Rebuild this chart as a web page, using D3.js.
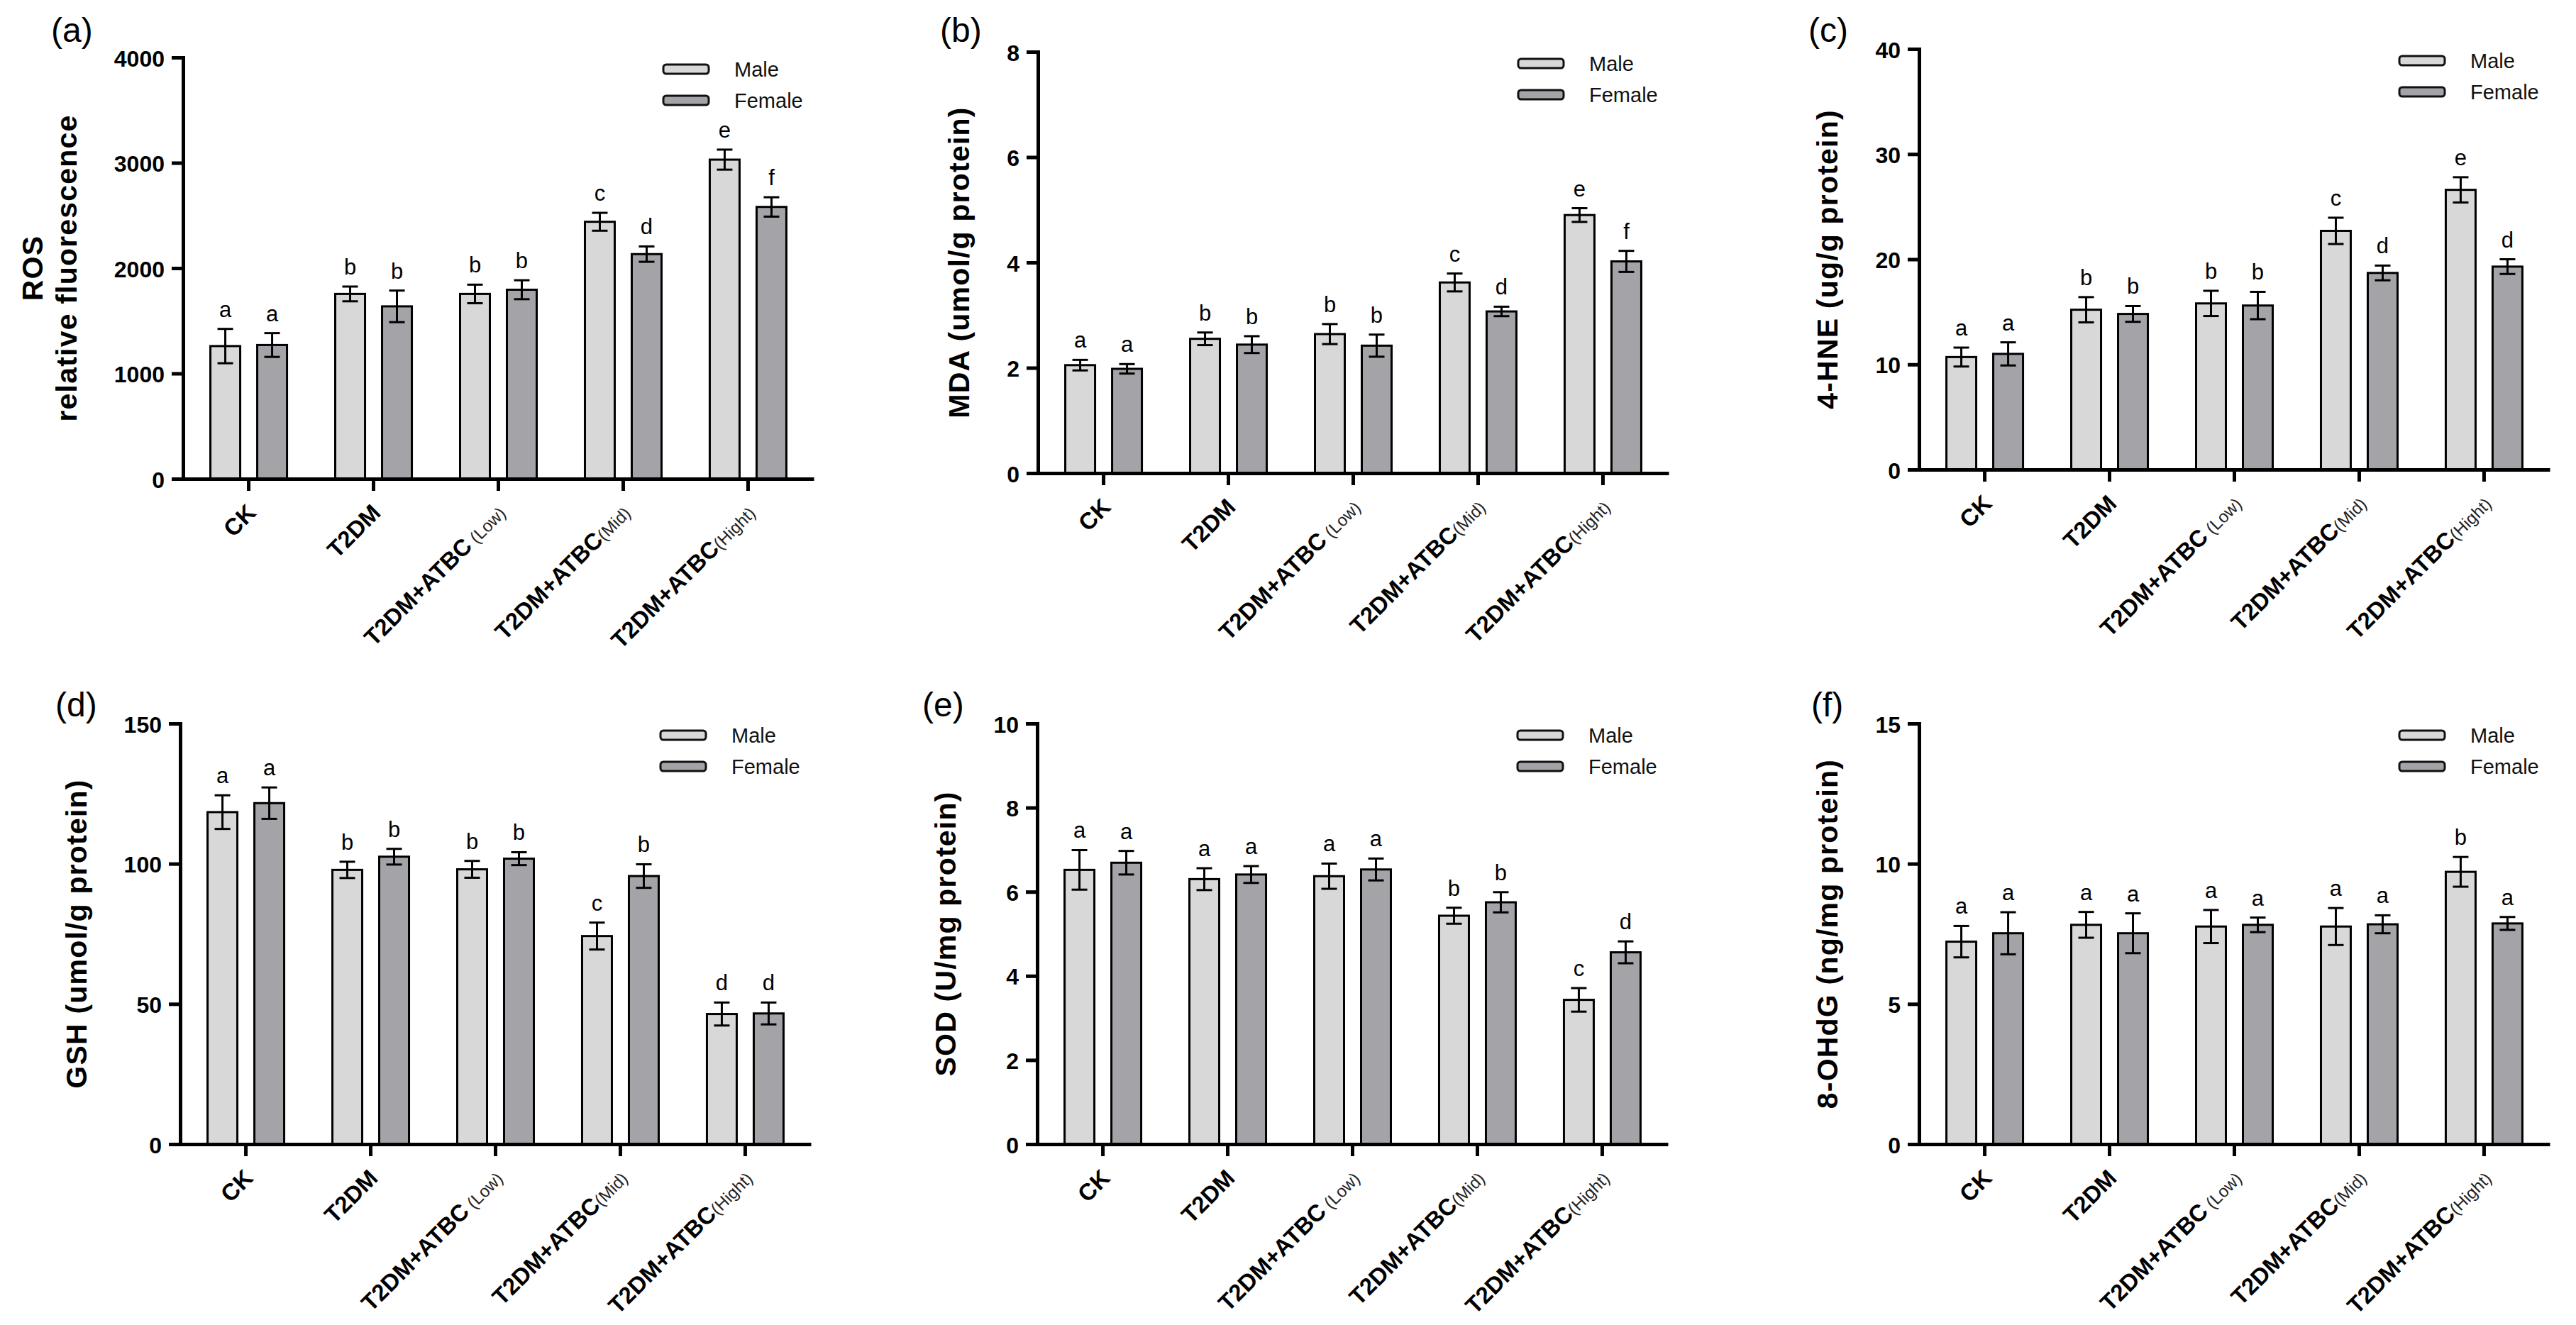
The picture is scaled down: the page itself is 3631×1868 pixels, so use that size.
<!DOCTYPE html>
<html>
<head>
<meta charset="utf-8">
<script src="https://cdn.jsdelivr.net/npm/d3@7"></script>
<style>
  html, body { margin: 0; padding: 0; background: #fff; }
  svg { display: block; font-family: "Liberation Sans", Arial, Helvetica, sans-serif; }
</style>
</head>
<body>
<script>
// ---------------- DATA ----------------
const categories = ["CK", "T2DM", "T2DM+ATBC (Low)", "T2DM+ATBC(Mid)", "T2DM+ATBC(Hight)"];
const catMain = ["CK", "T2DM", "T2DM+ATBC", "T2DM+ATBC", "T2DM+ATBC"];
const catSub = ["", "", "\u00a0(Low)", "(Mid)", "(Hight)"];
const series = ["Male", "Female"];

// (a) ROS
const rosMale = [1260, 1755, 1755, 2440, 3030];
const rosMaleErr = [163, 70, 88, 85, 95];
const rosFemale = [1270, 1637, 1795, 2133, 2581];
const rosFemaleErr = [113, 150, 90, 73, 92];
const rosMaleSig = ["a", "b", "b", "c", "e"];
const rosFemaleSig = ["a", "b", "b", "d", "f"];
const rosTicks = [0, 1000, 2000, 3000, 4000];

// (b) MDA
const mdaMale = [2.05, 2.55, 2.64, 3.62, 4.90];
const mdaMaleErr = [0.10, 0.12, 0.19, 0.17, 0.13];
const mdaFemale = [1.98, 2.44, 2.42, 3.07, 4.02];
const mdaFemaleErr = [0.09, 0.16, 0.21, 0.09, 0.20];
const mdaMaleSig = ["a", "b", "b", "c", "e"];
const mdaFemaleSig = ["a", "b", "b", "d", "f"];
const mdaTicks = [0, 2, 4, 6, 8];

// (c) 4-HNE
const hneMale = [10.7, 15.2, 15.8, 22.7, 26.6];
const hneMaleErr = [0.9, 1.2, 1.2, 1.25, 1.2];
const hneFemale = [11.0, 14.8, 15.6, 18.7, 19.3];
const hneFemaleErr = [1.1, 0.75, 1.3, 0.7, 0.7];
const hneMaleSig = ["a", "b", "b", "c", "e"];
const hneFemaleSig = ["a", "b", "b", "d", "d"];
const hneTicks = [0, 10, 20, 30, 40];

// (d) GSH
const gshMale = [118.4, 97.8, 98.0, 74.2, 46.4];
const gshMaleErr = [6.0, 2.9, 3.0, 4.8, 4.1];
const gshFemale = [121.6, 102.5, 101.8, 95.6, 46.6];
const gshFemaleErr = [5.6, 2.8, 2.3, 4.2, 3.9];
const gshMaleSig = ["a", "b", "b", "c", "d"];
const gshFemaleSig = ["a", "b", "b", "b", "d"];
const gshTicks = [0, 50, 100, 150];

// (e) SOD
const sodMale = [6.52, 6.30, 6.37, 5.43, 3.43];
const sodMaleErr = [0.47, 0.26, 0.30, 0.19, 0.28];
const sodFemale = [6.69, 6.41, 6.53, 5.75, 4.56];
const sodFemaleErr = [0.28, 0.20, 0.26, 0.24, 0.26];
const sodMaleSig = ["a", "a", "a", "b", "c"];
const sodFemaleSig = ["a", "a", "a", "b", "d"];
const sodTicks = [0, 2, 4, 6, 8, 10];

// (f) 8-OHdG
const ohdgMale = [7.22, 7.82, 7.76, 7.76, 9.71];
const ohdgMaleErr = [0.56, 0.46, 0.59, 0.66, 0.53];
const ohdgFemale = [7.52, 7.52, 7.82, 7.84, 7.87];
const ohdgFemaleErr = [0.75, 0.71, 0.26, 0.32, 0.23];
const ohdgMaleSig = ["a", "a", "a", "a", "b"];
const ohdgFemaleSig = ["a", "a", "a", "a", "a"];
const ohdgTicks = [0, 5, 10, 15];

// ---------------- LAYOUT ----------------
const W = 3631, H = 1868;
const AXIS_LEN = 889;
const FILL = { Male: "#d8d8d8", Female: "#a4a3a8" };

const panels = [
  { tag: "(a)", title: ["ROS", "relative fluorescence"], ticks: rosTicks,
    male: rosMale, maleErr: rosMaleErr, female: rosFemale, femaleErr: rosFemaleErr,
    maleSig: rosMaleSig, femaleSig: rosFemaleSig,
    axisX: 258, topY: 81, zeroY: 675, tagX: 72, tagY: 59 },
  { tag: "(b)", title: ["MDA (umol/g protein)"], ticks: mdaTicks,
    male: mdaMale, maleErr: mdaMaleErr, female: mdaFemale, femaleErr: mdaFemaleErr,
    maleSig: mdaMaleSig, femaleSig: mdaFemaleSig,
    axisX: 1463, topY: 73, zeroY: 667, tagX: 1325, tagY: 59 },
  { tag: "(c)", title: ["4-HNE (ug/g protein)"], ticks: hneTicks,
    male: hneMale, maleErr: hneMaleErr, female: hneFemale, femaleErr: hneFemaleErr,
    maleSig: hneMaleSig, femaleSig: hneFemaleSig,
    axisX: 2705, topY: 69, zeroY: 662, tagX: 2549, tagY: 59 },
  { tag: "(d)", title: ["GSH (umol/g protein)"], ticks: gshTicks,
    male: gshMale, maleErr: gshMaleErr, female: gshFemale, femaleErr: gshFemaleErr,
    maleSig: gshMaleSig, femaleSig: gshFemaleSig,
    axisX: 254, topY: 1020, zeroY: 1613, tagX: 78, tagY: 1010 },
  { tag: "(e)", title: ["SOD (U/mg protein)"], ticks: sodTicks,
    male: sodMale, maleErr: sodMaleErr, female: sodFemale, femaleErr: sodFemaleErr,
    maleSig: sodMaleSig, femaleSig: sodFemaleSig,
    axisX: 1462, topY: 1020, zeroY: 1613, tagX: 1300, tagY: 1010 },
  { tag: "(f)", title: ["8-OHdG (ng/mg protein)"], ticks: ohdgTicks,
    male: ohdgMale, maleErr: ohdgMaleErr, female: ohdgFemale, femaleErr: ohdgFemaleErr,
    maleSig: ohdgMaleSig, femaleSig: ohdgFemaleSig,
    axisX: 2705, topY: 1020, zeroY: 1613, tagX: 2553, tagY: 1010 }
];

const svg = d3.select("body").append("svg")
  .attr("width", W).attr("height", H).attr("viewBox", `0 0 ${W} ${H}`);
svg.append("rect").attr("width", W).attr("height", H).attr("fill", "#fff");

panels.forEach(p => {
  const g = svg.append("g");
  const y = d3.scaleLinear().domain([0, d3.max(p.ticks)]).range([p.zeroY, p.topY]);
  const x0 = d3.scaleBand().domain(categories)
    .range([p.axisX, p.axisX + AXIS_LEN]).paddingInner(0).paddingOuter(0.026);
  const bw = x0.bandwidth();
  const x1 = d3.scaleBand().domain(series)
    .range([bw / 2 - 54, bw / 2 + 54]).paddingInner(0.3636);

  const rows = [];
  categories.forEach((c, i) => {
    rows.push({ c, s: "Male", v: p.male[i], e: p.maleErr[i], sig: p.maleSig[i] });
    rows.push({ c, s: "Female", v: p.female[i], e: p.femaleErr[i], sig: p.femaleSig[i] });
  });
  const cx = d => x0(d.c) + x1(d.s) + x1.bandwidth() / 2;

  // bars
  g.selectAll("rect.bar").data(rows).join("rect")
    .attr("class", "bar")
    .attr("x", d => x0(d.c) + x1(d.s))
    .attr("y", d => y(d.v))
    .attr("width", x1.bandwidth())
    .attr("height", d => y(0) - y(d.v))
    .attr("fill", d => FILL[d.s])
    .attr("stroke", "#000")
    .attr("stroke-width", 3);

  // error bars
  const eb = g.selectAll("g.err").data(rows).join("g").attr("class", "err")
    .attr("stroke", "#000").attr("stroke-width", 3);
  eb.append("line")
    .attr("x1", cx).attr("x2", cx)
    .attr("y1", d => y(d.v - d.e)).attr("y2", d => y(d.v + d.e));
  eb.append("line")
    .attr("x1", d => cx(d) - 11).attr("x2", d => cx(d) + 11)
    .attr("y1", d => y(d.v + d.e)).attr("y2", d => y(d.v + d.e));
  eb.append("line")
    .attr("x1", d => cx(d) - 11).attr("x2", d => cx(d) + 11)
    .attr("y1", d => y(d.v - d.e)).attr("y2", d => y(d.v - d.e));

  // significance letters
  g.selectAll("text.sig").data(rows).join("text")
    .attr("class", "sig")
    .attr("x", cx)
    .attr("y", d => y(d.v + d.e) - 17)
    .attr("text-anchor", "middle")
    .attr("font-size", 31)
    .attr("fill", "#000")
    .text(d => d.sig);

  // y axis
  const yAxis = g.append("g").attr("transform", `translate(${p.axisX},0)`)
    .call(d3.axisLeft(y).tickValues(p.ticks).tickSize(16).tickSizeOuter(0)
      .tickPadding(10).tickFormat(d3.format("d")));
  yAxis.attr("font-size", null).attr("font-family", null);
  yAxis.select(".domain").attr("stroke-width", 5).attr("stroke-linecap", "square");
  yAxis.selectAll(".tick line").attr("stroke-width", 5);
  yAxis.selectAll(".tick text")
    .attr("font-size", 32).attr("font-weight", "bold").attr("dy", "0.38em").attr("fill", "#000");

  // x axis
  const xAxis = g.append("g").attr("transform", `translate(0,${p.zeroY})`)
    .call(d3.axisBottom(x0).tickSize(17).tickSizeOuter(0).tickFormat(""));
  xAxis.select(".domain").attr("stroke-width", 5);
  xAxis.selectAll(".tick line").attr("stroke-width", 5);

  // x labels
  categories.forEach((c, i) => {
    const tx = x0(c) + bw / 2 + 12, ty = p.zeroY + 50;
    const t = g.append("text")
      .attr("transform", `translate(${tx},${ty}) rotate(-45)`)
      .attr("text-anchor", "end")
      .attr("fill", "#000");
    t.append("tspan").attr("font-size", 33).attr("font-weight", "bold").text(catMain[i]);
    if (catSub[i]) t.append("tspan").attr("font-size", 24).attr("fill", "#222").text(catSub[i]);
  });

  // y title
  let maxW = 0;
  yAxis.selectAll(".tick text").each(function () {
    maxW = Math.max(maxW, this.getComputedTextLength());
  });
  const baseX = p.axisX - 26 - maxW - 53;
  const cy = (p.topY + p.zeroY) / 2;
  p.title.forEach((line, k) => {
    const off = (p.title.length - 1 - k) * 48;
    g.append("text")
      .attr("transform", `translate(${baseX - off},${cy}) rotate(-90)`)
      .attr("text-anchor", "middle")
      .attr("font-size", 41)
      .attr("font-weight", "bold")
      .attr("letter-spacing", 1.2)
      .attr("fill", "#000")
      .text(line);
  });

  // legend
  const lg = g.append("g");
  series.forEach((s, k) => {
    const ry = p.topY + 16.5 + k * 44;
    lg.append("rect")
      .attr("x", p.axisX + 677).attr("y", ry - 6.5)
      .attr("width", 64).attr("height", 13).attr("rx", 4)
      .attr("fill", FILL[s]).attr("stroke", "#111").attr("stroke-width", 3);
    lg.append("text")
      .attr("x", p.axisX + 777).attr("y", ry)
      .attr("dy", "0.36em")
      .attr("font-size", 29)
      .attr("fill", "#111")
      .text(s);
  });

  // panel tag
  g.append("text")
    .attr("x", p.tagX).attr("y", p.tagY)
    .attr("font-size", 48)
    .attr("fill", "#000")
    .text(p.tag);
});
</script>
</body>
</html>
